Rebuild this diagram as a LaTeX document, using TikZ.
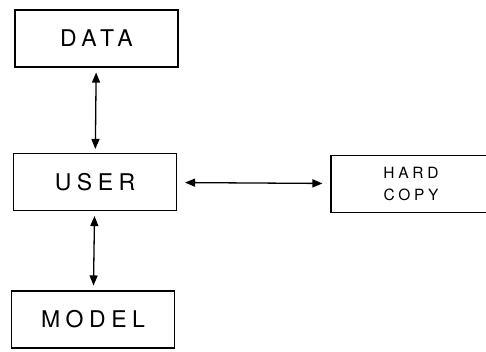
\documentclass[tikz,border=0pt]{standalone}
\usepackage{fontspec}
\usetikzlibrary{arrows.meta}
\newfontfamily\boxfont[LetterSpace=24]{TeX Gyre Heros}
\tikzset{
    block/.style = {draw, line width = 1.1pt, minimum width = 163pt, minimum height = 57pt,
                    inner sep = 0pt, font = \boxfont\fontsize{23}{26}\selectfont},
    link/.style  = {{Triangle[length = 10pt, width = 8pt]}-{Triangle[length = 10pt, width = 8pt]},
                    line width = 1.3pt},
}
\begin{document}
\begin{tikzpicture}[x = 1pt, y = -1pt]
    \useasboundingbox (0, 0) rectangle (486, 351);
    \node[block] (data)  at (96.5, 38.5)  {DATA};
    \node[block] (user)  at (95, 182)     {USER};
    \node[block] (model) at (93, 319.5)   {MODEL};
    \node[block, minimum width = 160pt, align = center,
          font = \boxfont\fontsize{15.5}{22}\selectfont] (hardcopy) at (411, 184) {HARD\\COPY};
    \draw[link, shorten <= 5pt, shorten >= 4pt] (data) -- (user);
    \draw[link, shorten <= 5pt, shorten >= 5pt] (user) -- (model);
    \draw[link, shorten <= 8pt, shorten >= 8pt] (user) -- (hardcopy);
\end{tikzpicture}
\end{document}
